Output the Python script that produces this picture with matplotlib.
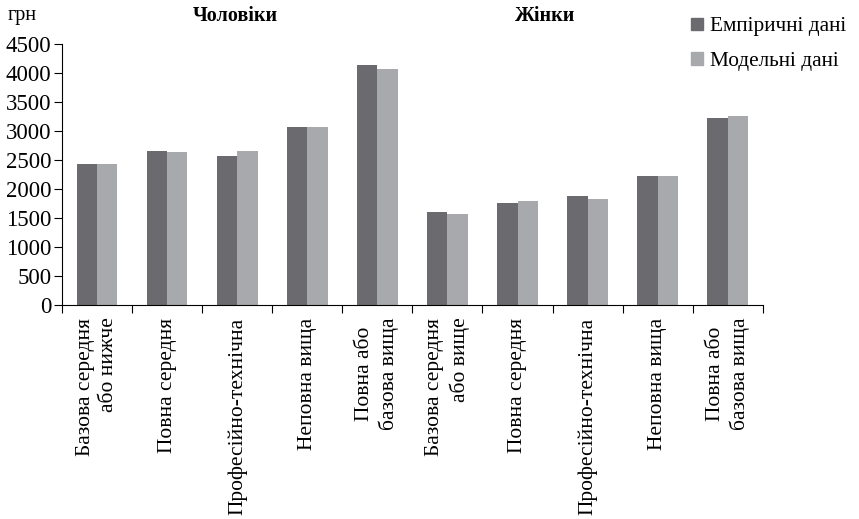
import numpy as np
import matplotlib.pyplot as plt
from matplotlib.patches import Patch

plt.rcParams['font.family'] = ['Liberation Serif', 'DejaVu Serif']

categories = ['Базова середня\nабо нижче', 'Повна середня', 'Професійно-технічна',
              'Неповна вища', 'Повна або\nбазова вища',
              'Базова середня\nабо вище', 'Повна середня', 'Професійно-технічна',
              'Неповна вища', 'Повна або\nбазова вища']
label_align = ['right', 'center', 'center', 'center', 'center',
               'right', 'center', 'center', 'center', 'center']
empirical = [2420, 2645, 2565, 3060, 4130, 1610, 1765, 1870, 2215, 3215]
model = [2420, 2630, 2645, 3060, 4065, 1575, 1785, 1820, 2215, 3250]
group_titles = ['Чоловіки', 'Жінки']
series_names = ['Емпіричні дані', 'Модельні дані']
yticks = np.arange(0, 4501, 500)

c_dark = '#6b6b6f'
c_light = '#a8a9ad'

fig = plt.figure(figsize=(8.59, 5.19), dpi=100)
ax = fig.add_axes([0.0722, 0.4123, 0.8158, 0.5035])

x = np.arange(len(categories))
w = 0.29
ax.bar(x - w / 2, empirical, w, color=c_dark)
ax.bar(x + w / 2, model, w, color=c_light)

ax.set_xlim(-0.5, len(categories) - 0.5)
ax.set_ylim(0, 4500)
ax.set_yticks(yticks)
ax.set_yticklabels([str(v) for v in yticks], fontsize=16.5)

ax.set_xticks(x)
ax.set_xticklabels(categories, rotation=90, fontsize=15.5)
for lbl, al in zip(ax.get_xticklabels(), label_align):
    lbl.set_multialignment(al)
    lbl.set_linespacing(1.3)
ax.set_xticks(np.arange(-0.5, len(categories)), minor=True)
ax.tick_params(axis='x', which='major', length=0, pad=9)
ax.tick_params(axis='x', which='minor', length=6, width=0.8)
ax.tick_params(axis='y', length=6, width=0.8, pad=1.5)

for s in ['top', 'right']:
    ax.spines[s].set_visible(False)
ax.spines['left'].set_linewidth(0.8)
ax.spines['bottom'].set_linewidth(0.8)

fig.text(0.0085, 0.97, 'грн', fontsize=14.5, va='center', ha='left')
fig.text(235 / 859, 0.97, group_titles[0], fontsize=14.5, fontweight='bold',
         ha='center', va='center')
fig.text(545 / 859, 0.97, group_titles[1], fontsize=14.5, fontweight='bold',
         ha='center', va='center')

handles = [Patch(color=c_dark), Patch(color=c_light)]
fig.legend(handles, series_names, loc='upper left', bbox_to_anchor=(0.7875, 0.995),
           frameon=False, fontsize=15.3, handlelength=0.55, handleheight=0.55,
           handletextpad=0.35, labelspacing=0.72, borderaxespad=0.3)

fig.savefig('out.png', dpi=100)
